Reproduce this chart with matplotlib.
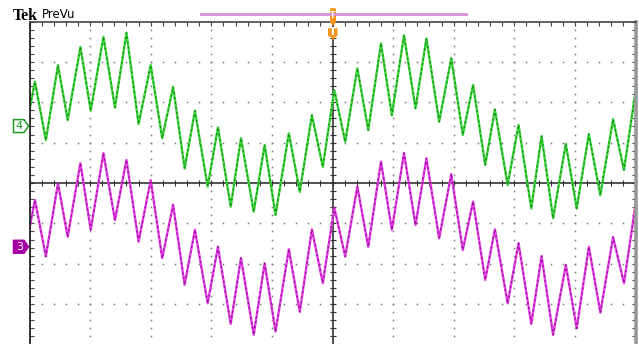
import numpy as np
import matplotlib
matplotlib.use("Agg")
import matplotlib.pyplot as plt
from matplotlib import transforms
from matplotlib.patches import Polygon, FancyBboxPatch

# ── Data (time in divisions, voltage in divisions) ───────────────────────────
t_div = [0.00, 0.09, 0.27, 0.47, 0.63, 0.84, 1.01, 1.22, 1.41, 1.60, 1.80,
         2.00, 2.19, 2.37, 2.56, 2.73, 2.94, 3.11, 3.32, 3.49, 3.70, 3.88,
         4.06, 4.28, 4.46, 4.66, 4.84, 5.03, 5.21, 5.41, 5.59, 5.80, 5.98,
         6.18, 6.37, 6.55, 6.76, 6.96, 7.15, 7.32, 7.52, 7.68, 7.89, 8.07,
         8.28, 8.45, 8.64, 8.85, 9.03, 9.23, 9.42, 9.63, 9.81, 10.00]

ch4 = [1.81, 2.51, 1.06, 2.92, 1.56, 3.37, 1.79, 3.62, 1.87, 3.72, 1.46,
       2.92, 1.11, 2.38, 0.36, 1.79, -0.09, 1.38, -0.59, 1.11, -0.71, 0.94,
       -0.79, 1.23, -0.22, 1.68, 0.40, 2.30, 1.02, 2.84, 1.31, 3.46, 1.68,
       3.66, 1.85, 3.58, 1.52, 3.09, 1.19, 2.43, 0.45, 1.82, -0.05, 1.44,
       -0.63, 1.16, -0.87, 0.97, -0.63, 1.21, -0.30, 1.58, 0.32, 2.26]

ch3 = [-1.12, -0.42, -1.82, -0.01, -1.33, 0.49, -1.16, 0.74, -0.92, 0.57, -1.45,
       0.07, -1.86, -0.54, -2.52, -1.16, -2.98, -1.58, -3.49, -1.86, -3.76, -1.99,
       -3.68, -1.64, -3.19, -1.15, -2.48, -0.61, -1.82, -0.09, -1.58, 0.53, -1.16,
       0.74, -1.04, 0.61, -1.37, 0.22, -1.66, -0.46, -2.40, -1.15, -2.98, -1.49,
       -3.49, -1.81, -3.76, -2.03, -3.60, -1.58, -3.21, -1.34, -2.48, -0.54]

ch4_offset = 1.41
ch3_offset = -1.58

W, H = 639, 344
fig = plt.figure(figsize=(W / 100, H / 100), dpi=100)


def px(x, y):
    # pixel (from top-left) -> figure fraction
    return x / W, 1 - y / H


ax = fig.add_axes([29.5 / W, -0.5 / H, 606 / W, 323 / H])
ax.set_xlim(0, 10)
ax.set_ylim(-4, 4)

# graticule
ax.spines['bottom'].set_visible(False)
ax.spines['left'].set_color('#222222')
ax.spines['left'].set_linewidth(1.3)
ax.spines['top'].set_color('#444444')
ax.spines['top'].set_linewidth(1.2)
ax.spines['right'].set_color('#999999')
ax.spines['right'].set_linewidth(2.6)

ax.set_xticks(np.arange(0, 10.01, 0.2))
ax.set_yticks(np.arange(-4, 4.01, 0.2))
ax.tick_params(direction='in', length=3, width=0.8, color='#444444',
               top=True, bottom=False, left=True, right=True,
               labelleft=False, labelbottom=False)

fine = np.arange(0, 10.01, 0.2)
yy = np.arange(-4, 4.01, 0.2)
for gx in range(1, 10):
    if gx == 5:
        continue
    ax.plot(np.full_like(yy, gx), yy, ls='none', marker='s', ms=1.1,
            mec='none', mfc='#777777')
for gy in range(-3, 4):
    if gy == 0:
        continue
    ax.plot(fine, np.full_like(fine, gy), ls='none', marker='s', ms=1.1,
            mec='none', mfc='#777777')

ax.axhline(0, color='#222222', lw=1.1)
ax.axvline(5, color='#222222', lw=1.1)
ax.plot(fine, np.zeros_like(fine), ls='none', marker='|', ms=4, mew=0.8,
        color='#333333')
ax.plot(np.full_like(yy, 5), yy, ls='none', marker='_', ms=4, mew=0.8,
        color='#333333')

# traces
ax.plot(t_div, ch4, color='#3dd23d', lw=1.7, solid_joinstyle='round')
ax.plot(t_div, ch4, color='#0e8a0e', lw=0.9, dashes=(1.5, 2.5))
ax.plot(t_div, ch3, color='#e23ee2', lw=1.7, solid_joinstyle='round')
ax.plot(t_div, ch3, color='#8e0a8e', lw=0.9, dashes=(1.5, 2.5))

# header
fig.text(*px(12.5, 19.5), 'Tek', fontfamily='Liberation Serif',
         fontweight='bold', fontsize=11.5, va='baseline', ha='left')
fig.text(*px(42, 18.5), 'PreVu', fontfamily='DejaVu Sans', fontsize=8.5,
         va='baseline', ha='left')

# record-length bar
fig.add_artist(plt.Line2D([201 / W, 466 / W], [1 - 14 / H, 1 - 14 / H],
                          color='#d68fd6', lw=2))

# trigger markers
orange = '#f7941d'
x0, y0 = px(330, 8)
x1, y1 = px(336, 23)
fig.add_artist(FancyBboxPatch((x0, y1), x1 - x0, y0 - y1,
                              boxstyle='round,pad=0,rounding_size=0.004',
                              fc=orange, ec='none'))
fig.add_artist(Polygon([px(330, 22), px(336, 22), px(333, 26)],
                       closed=True, fc=orange, ec='none'))
fig.text(*px(333, 16), 'T', color='white', fontsize=5.5, fontweight='bold',
         ha='center', va='center')
x0, y0 = px(328, 27)
x1, y1 = px(337.5, 37)
fig.add_artist(FancyBboxPatch((x0, y1), x1 - x0, y0 - y1,
                              boxstyle='round,pad=0,rounding_size=0.006',
                              fc=orange, ec='none'))
fig.add_artist(Polygon([px(330, 36), px(336, 36), px(333, 40)],
                       closed=True, fc=orange, ec='none'))
fig.text(*px(332.8, 32.3), 'T', color='white', fontsize=8, fontweight='bold',
         ha='center', va='center')

# channel ground markers
blend = transforms.blended_transform_factory(fig.transFigure, ax.transData)
hh = 0.16


def chan_marker(off, label, fc, ec, tc):
    xa, xb, xt = 13.5 / W, 24 / W, 28.5 / W
    pts = [(xa, off - hh), (xb, off - hh), (xt, off), (xb, off + hh),
           (xa, off + hh)]
    fig.add_artist(Polygon(pts, closed=True, transform=blend, fc=fc, ec=ec,
                           lw=1.1))
    fig.text(19.5 / W, off, label, transform=blend, color=tc, fontsize=8,
             ha='center', va='center')


chan_marker(ch4_offset, '4', 'white', '#1f9a1f', '#1f9a1f')
chan_marker(ch3_offset, '3', '#a300a3', '#a300a3', 'white')

fig.savefig('out.png', dpi=100)
